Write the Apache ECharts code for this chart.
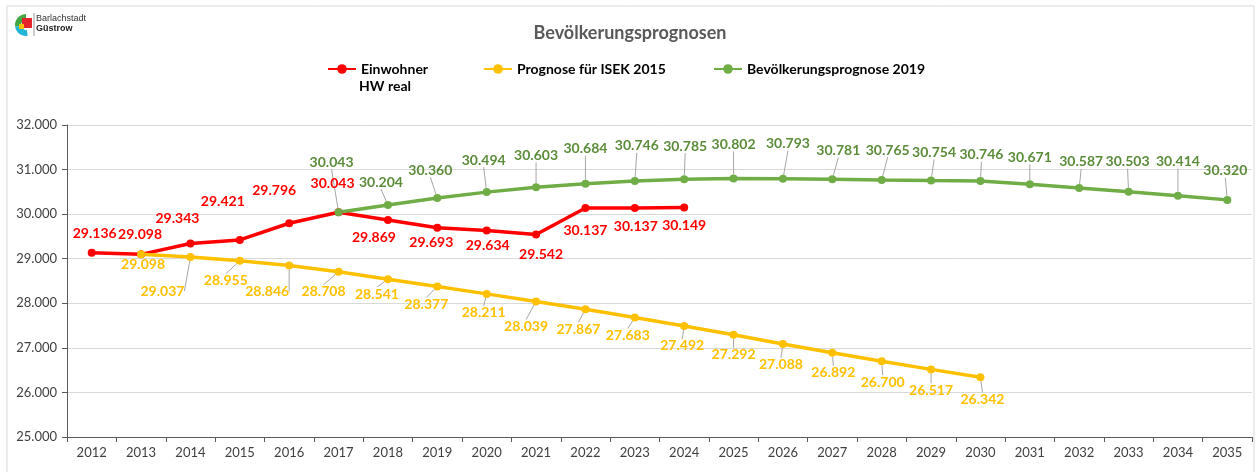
<!DOCTYPE html>
<html>
<head>
<meta charset="utf-8">
<script src="https://cdn.jsdelivr.net/npm/echarts@6/dist/echarts.min.js"></script>
<style>
  html, body { margin: 0; padding: 0; background: #fff; }
  #main { width: 1260px; height: 472px; }
</style>
</head>
<body>
<div id="main"></div>
<script>
var years = ['2012','2013','2014','2015','2016','2017','2018','2019','2020','2021','2022','2023','2024',
  '2025','2026','2027','2028','2029','2030','2031','2032','2033','2034','2035'];

// Einwohner HW real (2012-2024)
var einwohner = [29136, 29098, 29343, 29421, 29796, 30043, 29869, 29693, 29634, 29542, 30137, 30137, 30149,
  null, null, null, null, null, null, null, null, null, null, null];

// Prognose für ISEK 2015 (2013-2030)
var isek2015 = [null, 29098, 29037, 28955, 28846, 28708, 28541, 28377, 28211, 28039, 27867, 27683, 27492,
  27292, 27088, 26892, 26700, 26517, 26342, null, null, null, null, null];

// Bevölkerungsprognose 2019 (2017-2035)
var prognose2019 = [null, null, null, null, null, 30043, 30204, 30360, 30494, 30603, 30684, 30746, 30785,
  30802, 30793, 30781, 30765, 30754, 30746, 30671, 30587, 30503, 30414, 30320];

var yTicks = [25000, 26000, 27000, 28000, 29000, 30000, 31000, 32000];

// label offsets (label centre minus point), per category index
var redOff = [[3,-19],[-1,-20],[-13,-25],[-17,-38],[-15,-33],[-6,-29],[-14,18],[-6,15],[1,15],[5,20],[0,22],[1,18],[0,18]];
var yellowOff = [null,[2,10],[-28,34],[-14,20],[-22,26],[-15,20],[-11,15],[-11,18],[-3,19],[-10,25],[-7,20],[-7,18],[-2,20],
  [0,20],[-2,21],[1,20],[1,21],[0,21],[2,22]];
var greenOff = [null,null,null,null,null,[-7,-50],[-7,-23],[-7,-28],[-3,-32],[0,-32],[0,-35],[2,-35],[1,-33],
  [0,-34],[5,-35],[6,-29],[6,-30],[3,-28],[1,-26],[0,-27],[2,-26],[-1,-30],[0,-34],[-2,-29]];

function fmt(v) {
  return Math.round(v).toString().replace(/\B(?=(\d{3})+(?!\d))/g, '.');
}

function layoutFrom(off) {
  return function (p) {
    var o = off[p.dataIndex] || [0, 0];
    return { dx: o[0], dy: o[1] };
  };
}

var font = 'Lato, "Open Sans", sans-serif';

var chartDom = document.getElementById('main');
var myChart = echarts.init(chartDom);
var option;

function mkSeries(name, data, color, labelColor, off, withLine) {
  return {
    name: name,
    type: 'line',
    data: data,
    connectNulls: false,
    symbol: 'circle',
    symbolSize: 8,
    lineStyle: { color: color, width: 3.5 },
    itemStyle: { color: color },
    emphasis: { disabled: true },
    label: {
      show: true,
      position: 'inside',
      color: labelColor,
      fontFamily: font,
      fontWeight: 'bold',
      fontSize: 14,
      formatter: function (p) { return fmt(p.value); }
    },
    labelLine: {
      show: withLine,
      lineStyle: { color: '#a6a6a6', width: 1 }
    },
    labelLayout: layoutFrom(off)
  };
}

var legendText = { color: '#000', fontFamily: font, fontWeight: 'bold', fontSize: 14 };

option = {
  animation: false,
  backgroundColor: '#ffffff',
  title: {
    text: 'Bevölkerungsprognosen',
    left: 'center',
    top: 19,
    textStyle: { color: '#595959', fontFamily: font, fontWeight: 'bold', fontSize: 18 }
  },
  graphic: [
    { type: 'rect', shape: { x: 7, y: 6, width: 1247, height: 480 }, style: { fill: 'none', stroke: '#d9d9d9', lineWidth: 1 }, silent: true },
    // logo
    { type: 'sector', shape: { cx: 26, cy: 25, r: 11, r0: 5, startAngle: Math.PI * 0.95, endAngle: Math.PI * 1.5 }, style: { fill: '#43a843' } },
    { type: 'sector', shape: { cx: 26, cy: 25, r: 11, r0: 5, startAngle: Math.PI * 0.45, endAngle: Math.PI * 0.95 }, style: { fill: '#22b5d8' } },
    { type: 'rect', shape: { x: 22, y: 18, width: 10, height: 10 }, style: { fill: '#e4252d' } },
    { type: 'rect', shape: { x: 19, y: 24, width: 5, height: 5 }, style: { fill: '#f5c400' } },
    { type: 'line', shape: { x1: 34, y1: 13, x2: 34, y2: 36 }, style: { stroke: '#999', lineWidth: 1 } },
    { type: 'text', left: 36, top: 14, style: { text: 'Barlachstadt', fill: '#333', font: '9px "Liberation Sans Narrow", "Liberation Sans", sans-serif' } },
    { type: 'text', left: 36, top: 24, style: { text: 'Güstrow', fill: '#222', font: 'bold 9px "Liberation Sans Narrow", "Liberation Sans", sans-serif' } },
    // second line of first legend entry
    { type: 'text', left: 359, top: 79, style: { text: 'HW real', fill: '#000', font: 'bold 14px ' + font } }
  ],
  legend: [
    { left: 327, top: 62, padding: 0, data: ['Einwohner HW real'], formatter: function () { return 'Einwohner'; },
      itemWidth: 28, itemHeight: 12, textStyle: legendText },
    { left: 483, top: 62, padding: 0, data: ['Prognose für ISEK 2015'],
      itemWidth: 28, itemHeight: 12, textStyle: legendText },
    { left: 713, top: 62, padding: 0, data: ['Bevölkerungsprognose 2019'],
      itemWidth: 28, itemHeight: 12, textStyle: legendText }
  ],
  grid: { left: 67, right: 8, top: 125, bottom: 35 },
  xAxis: {
    type: 'category',
    data: years,
    boundaryGap: true,
    axisLine: { lineStyle: { color: '#595959', width: 1 } },
    axisTick: { show: true, length: 5, lineStyle: { color: '#595959' } },
    axisLabel: { color: '#404040', fontFamily: font, fontSize: 13, margin: 9 }
  },
  yAxis: {
    type: 'value',
    min: yTicks[0],
    max: yTicks[yTicks.length - 1],
    interval: 1000,
    axisLine: { show: true, lineStyle: { color: '#595959', width: 1 } },
    axisTick: { show: true, length: 5, lineStyle: { color: '#595959' } },
    splitLine: { lineStyle: { color: '#d9d9d9' } },
    axisLabel: { color: '#404040', fontFamily: font, fontSize: 13, margin: 10, formatter: fmt }
  },
  series: [
    mkSeries('Einwohner HW real', einwohner, '#ff0000', '#ff0000', redOff, false),
    mkSeries('Prognose für ISEK 2015', isek2015, '#ffc000', '#ffc000', yellowOff, true),
    mkSeries('Bevölkerungsprognose 2019', prognose2019, '#70ad47', '#5b8c3a', greenOff, true)
  ]
};

option && myChart.setOption(option);
</script>
</body>
</html>
